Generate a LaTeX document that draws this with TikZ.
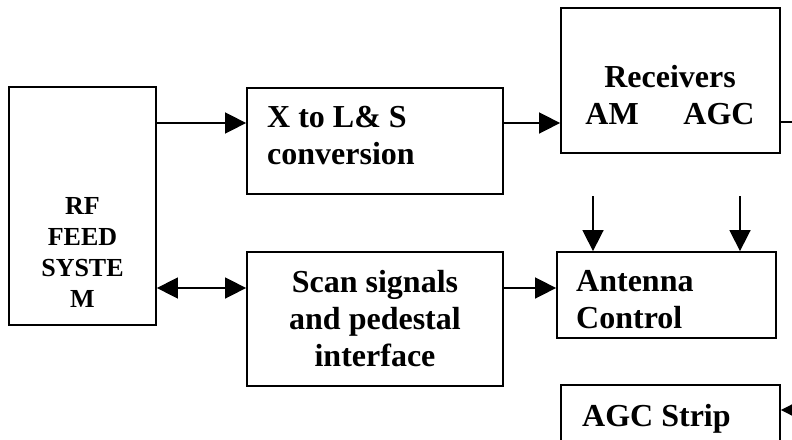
\documentclass[tikz,border=0pt]{standalone}
\usepackage{fontspec}
\setmainfont{Liberation Serif}
\usetikzlibrary{arrows.meta}

\tikzset{
  blk/.style={draw, line width=1.8pt, inner sep=0pt},
  lbl/.style={inner sep=0pt, font=\bfseries\fontsize{32}{37}\selectfont},
  tip/.tip={Triangle[length=21pt,width=21pt]},
  arr/.style={line width=1.6pt, -tip},
  darr/.style={line width=1.6pt, tip-tip},
}

\begin{document}
\begin{tikzpicture}[x=1pt,y=-1pt]
\clip (0,0) rectangle (792,439);
\fill[white] (0,0) rectangle (792,439);

% boxes
\node[blk, minimum width=147pt, minimum height=238pt] (rf) at (82.5,206) {};
\node[blk, minimum width=256pt, minimum height=106pt] (xls) at (375,141) {};
\node[blk, minimum width=219pt, minimum height=145pt] (rx) at (670.5,80.5) {};
\node[blk, minimum width=256pt, minimum height=134pt] (scan) at (375,319) {};
\node[blk, minimum width=219pt, minimum height=86pt] (ant) at (666.5,295) {};
\node[blk, minimum width=219pt, minimum height=100pt] (agc) at (670.5,435) {};

% texts
\node[lbl, align=center, font=\bfseries\fontsize{26}{31}\selectfont] (rftxt) at (82.5,252) {RF\\FEED\\SYSTE\\M};
\node[lbl, align=left, anchor=west] (xlstxt) at (267,136) {X to L\& S\\conversion};
\node[lbl, align=center] (rxtxt) at (670,95.5) {Receivers\\AM\hspace{1.4em}AGC};
\node[lbl, align=center] (scantxt) at (375,318.5) {Scan signals\\and pedestal\\interface};
\node[lbl, align=left, anchor=west] (anttxt) at (576,299.5) {Antenna\\Control};
\node[lbl, anchor=base west] (agctxt) at (582,426) {AGC Strip};

% free ends
\coordinate (r1) at (0,123);
\coordinate (r2) at (0,288);
\coordinate (rxout) at (800,122);
\coordinate (amsrc) at (593,196);
\coordinate (agcsrc) at (740,196);
\coordinate (agcin) at (812,410);

% connectors
\draw[arr] (rf.east |- r1) -- (xls.west |- r1);
\draw[arr] (xls.east |- r1) -- (rx.west |- r1);
\draw[line width=1.6pt] (rx.east |- rxout) -- (rxout);
\draw[darr] (rf.east |- r2) -- (scan.west |- r2);
\draw[arr] (scan.east |- r2) -- (ant.west |- r2);
\draw[arr] (amsrc) -- (amsrc |- ant.north);
\draw[arr] (agcsrc) -- (agcsrc |- ant.north);
\draw[arr] (agcin) -- (agc.east |- agcin);
\end{tikzpicture}
\end{document}
